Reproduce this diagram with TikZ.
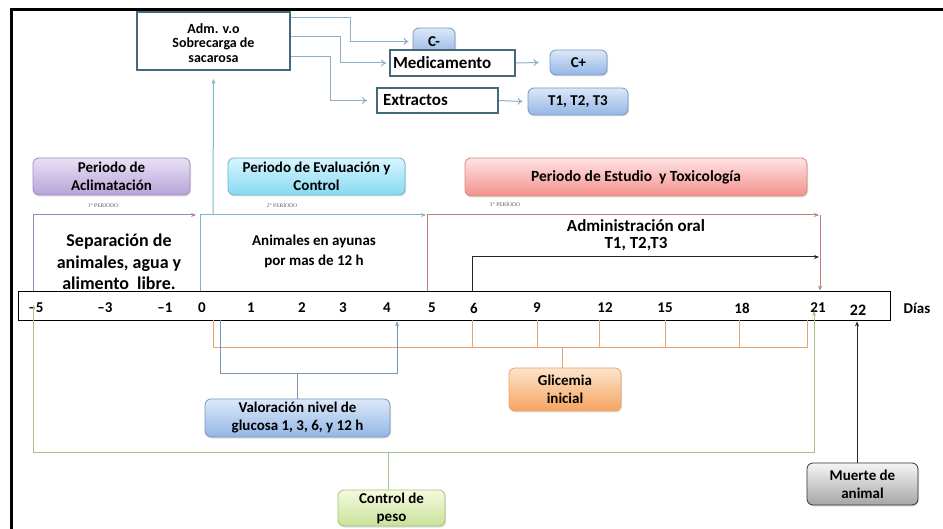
\documentclass[tikz,border=0pt]{standalone}
\usepackage{fontspec}
\setmainfont{Carlito}
\newfontfamily\tinyserif{Liberation Serif}
\usetikzlibrary{arrows.meta,shadows,calc}
\definecolor{sqline}{HTML}{44697C}
\definecolor{brline}{HTML}{8CB0C8}
\definecolor{teall}{HTML}{7DB7C9}
\definecolor{purpl}{HTML}{9C88B8}
\definecolor{redl}{HTML}{C07F78}
\definecolor{orl}{HTML}{E6A474}
\definecolor{bll}{HTML}{7A96BA}
\definecolor{grl}{HTML}{A9C48A}
\definecolor{blueT}{HTML}{DCE8F8}
\definecolor{blueB}{HTML}{93B6E6}
\definecolor{purT}{HTML}{E9E1F5}
\definecolor{purB}{HTML}{B6A3D8}
\definecolor{purD}{HTML}{9D8BC0}
\definecolor{cyT}{HTML}{D8F6FF}
\definecolor{cyB}{HTML}{86D9F2}
\definecolor{cyD}{HTML}{6DB3C9}
\definecolor{reT}{HTML}{FFE3E3}
\definecolor{reB}{HTML}{F3918C}
\definecolor{reD}{HTML}{D08A86}
\definecolor{orT}{HTML}{FDE4CC}
\definecolor{orB}{HTML}{F6A45F}
\definecolor{orD}{HTML}{E6A070}
\definecolor{grT}{HTML}{F4FADF}
\definecolor{grB}{HTML}{C9E29A}
\definecolor{grD}{HTML}{A5C27A}
\begin{document}
\begin{tikzpicture}[x=1pt,y=-1pt,
  sq/.style={draw=sqline, line width=1.8pt, fill=white, align=center, inner sep=0pt, font=\bfseries\fontsize{17}{19}\selectfont},
  rbox/.style={rounded corners=6pt, line width=0.8pt, align=center, inner sep=0pt, font=\bfseries\fontsize{15}{18}\selectfont,
     drop shadow={opacity=0.25,shadow xshift=1pt,shadow yshift=-1.5pt}},
  bluebox/.style={rbox, draw=bll, top color=blueT, bottom color=blueB},
  txt/.style={align=center, inner sep=0pt, font=\bfseries\fontsize{16}{19}\selectfont},
  axl/.style={inner sep=0pt, font=\bfseries\fontsize{15}{18}\selectfont},
  per/.style={inner sep=0pt, font=\tinyserif\fontsize{5.5}{6}\selectfont, text=black!65},
  branch/.style={draw=brline, line width=1pt, -{To[length=5pt,width=7pt]}},
  tip/.style={-{Stealth[length=5pt,width=4pt]}},
]
\useasboundingbox (0,0) rectangle (943,529);
% frame
\draw[line width=3pt] (943,10) -- (11,10) -- (11,529);

% top boxes
\node[sq, font=\bfseries\fontsize{14}{14.5}\selectfont, minimum width=153pt, minimum height=58pt] (adm) at (213.5,41)
  {\raisebox{-4pt}[\height][\depth]{\begin{tabular}{@{}c@{}}Adm. v.o\\Sobrecarga de\\sacarosa\end{tabular}}};
\node[bluebox, minimum width=42pt, minimum height=27pt] (cm) at (434,41.5) {C-};
\node[sq, minimum width=125pt, minimum height=26pt, text width=119pt, align=left] (med) at (452.5,63) {Medicamento};
\node[bluebox, minimum width=57pt, minimum height=25pt] (cp) at (578.5,62.5) {C+};
\node[sq, minimum width=121pt, minimum height=25pt, text width=109pt, align=left] (ext) at (437.5,100.5) {Extractos};
\node[bluebox, minimum width=100pt, minimum height=27pt] (tt) at (578,101.5) {T1, T2, T3};

\draw[branch] ($(adm.north east)+(0,6)$) -- ++(60,0) |- ([xshift=-4pt]cm.west);
\draw[branch] ($(adm.north east)+(0,25)$) -- ++(50,0) |- ([xshift=-3pt]med.west);
\draw[branch] ($(adm.north east)+(0,45)$) -- ++(40,0) |- ([xshift=-9pt]ext.west);
\draw[branch] (med.east) -- ([xshift=-11pt]cp.west);
\draw[branch] (ext.east) -- ([xshift=-5pt]tt.west);

% period boxes
\node[rbox, draw=purD, top color=purT, bottom color=purB, minimum width=157pt, minimum height=37pt] (pa) at (111.5,176.5) {Periodo de\\Aclimatación};
\node[rbox, draw=cyD, top color=cyT, bottom color=cyB, minimum width=177pt, minimum height=37pt] (pe) at (316.5,176.5) {Periodo de Evaluación y\\Control};
\node[rbox, draw=reD, top color=reT, bottom color=reB, minimum width=342pt, minimum height=38pt, font=\bfseries\fontsize{15.5}{18}\selectfont] (pt) at (636,177) {Periodo de Estudio\ \ y Toxicología};

\node[per] (l1) at (103,206) {1° PERIODO};
\node[per] (l2) at (282,205) {2° PERÍODO};
\node[per] (l3) at (505,204) {3° PERÍODO};

% axis
\node[draw, line width=0.8pt, minimum width=872pt, minimum height=29pt, inner sep=0pt] (axis) at (454,305.5) {};
\foreach \v/\x in {–5/36,–3/105,–1/165,0/202,1/251,2/302,3/343,4/387,5/432,6/474,9/537,12/605,15/665,18/742,21/818}
  \node[axl] at (\x,308) {\v};
\node[axl, font=\bfseries\fontsize{16}{18}\selectfont] (d22) at (858,310) {22};
\node[axl] (dias) at (917,308) {Días};

% period arrows
\coordinate (pA) at (33,215);
\coordinate (pB) at (200,215);
\coordinate (pC) at (427,215);
\coordinate (pD) at (820,215);
\draw[purpl, line width=1pt, tip] (pA |- axis.north) -- (pA) -- ([xshift=-4pt]pB);
\draw[teall, line width=1pt, tip] (pB |- axis.north) -- (pB) -- ([xshift=-1pt]pC);
\draw[redl, line width=1pt, tip] (pC |- axis.north) -- (pC) -- ([xshift=-1pt]pD);
\draw[redl, line width=1pt, tip] (pD) -- (pD |- axis.north);
\draw[teall, line width=1pt, tip] (213,214) -- ([yshift=-8pt]adm.south);

\node[txt, font=\bfseries\fontsize{18}{21.5}\selectfont] (sep) at (119,262) {Separación de\\animales, agua y\\alimento\ \ libre.};
\node[txt, font=\bfseries\fontsize{15}{20}\selectfont] (ani) at (314,251) {Animales en ayunas\\por mas de 12 h};
\node[txt, font=\bfseries\fontsize{17}{17}\selectfont] (admo) at (636,235) {Administración oral\\T1, T2,T3};
\coordinate (bk) at (472,257);
\draw[black!85, line width=1pt, tip] (bk |- axis.north) -- (bk) -- (819,257);

% glicemia
\node[rbox, draw=orD, top color=orT, bottom color=orB, minimum width=112pt, minimum height=43pt] (gl) at (565,389.5) {Glicemia\\inicial};
\draw[orl, line width=1pt] (213,0 |- axis.south) |- (807,348) -- (807,0 |- axis.south);
\foreach \x in {472,537,599,665,739}
  \draw[orl, line width=1pt] (\x,0 |- axis.south) -- (\x,348);
\draw[orl, line width=1pt] (gl.north -| 562,0) -- (562,348);

% valoracion
\node[rbox, draw=bll, top color=blueT, bottom color=blueB, minimum width=185pt, minimum height=38pt] (val) at (297.5,418) {Valoración nivel de\\glucosa 1, 3, 6, y 12 h};
\draw[bll, line width=1pt, tip] (220,0 |- axis.south) |- (397,374) -- ([yshift=-1pt]397,0 |- axis.south);
\draw[bll, line width=1pt] (val.north) -- (val.north |- 0,374);

% control de peso
\node[rbox, draw=grD, top color=grT, bottom color=grB, minimum width=107pt, minimum height=36pt] (peso) at (391.5,508) {Control de\\peso};
\draw[grl, line width=1pt, tip] (33,305) |- (814,452) -- (814,311);
\draw[grl, line width=1pt] (peso.north -| 388,0) -- (388,452);

% muerte
\node[rbox, draw=black!80, top color=black!4, bottom color=black!35, minimum width=111pt, minimum height=42pt] (mu) at (862.5,484) {Muerte de\\animal};
\draw[black!85, line width=1pt, tip] (mu.north -| 857,0) -- ([yshift=-1pt]857,0 |- axis.south);
\end{tikzpicture}
\end{document}
